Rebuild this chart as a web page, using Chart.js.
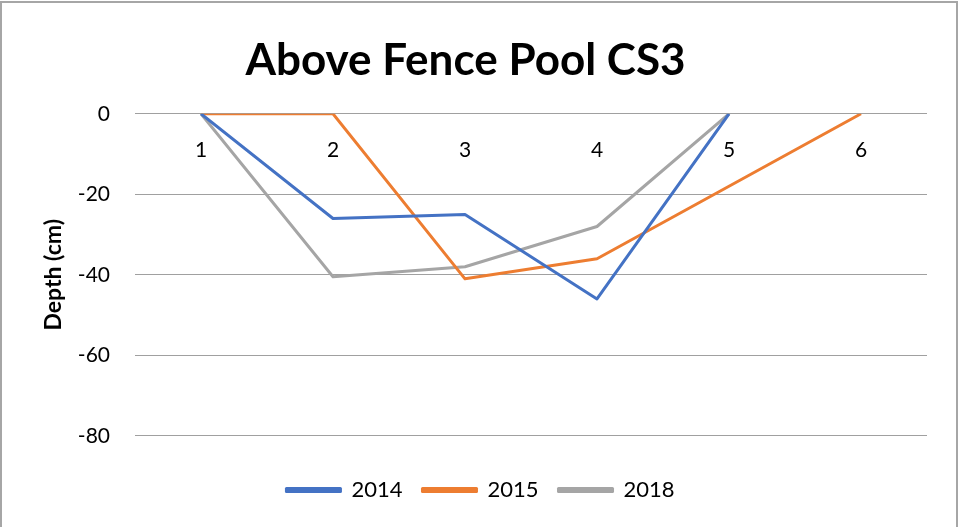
<!DOCTYPE html>
<html>
<head>
<meta charset="utf-8">
<title>Above Fence Pool CS3</title>
<script src="https://cdn.jsdelivr.net/npm/chart.js@4.4.1/dist/chart.umd.min.js"></script>
<style>
  html, body { margin: 0; padding: 0; background: #fff; overflow: hidden; }
  #wrap { position: relative; width: 961px; height: 527px; }
  #frame {
    position: absolute; left: 0; top: 1px; width: 958px; height: 560px;
    box-sizing: border-box; border: 2px solid #a6a6a6; pointer-events: none;
  }
</style>
</head>
<body>
<div id="wrap">
  <canvas id="depthChart" width="961" height="527"></canvas>
  <div id="frame"></div>
</div>
<script>
// Cross-section points and depth readings per survey year
const stations = ["1", "2", "3", "4", "5", "6"];
const depth2014 = [0, -26, -25, -46, 0, null];
const depth2015 = [0, 0, -41, -36, -18, 0];
const depth2018 = [0, -40.5, -38, -28, 0, null];
const depthTicks = [0, -20, -40, -60, -80];

const FONT = "Lato, 'Noto Sans', sans-serif";

function series(label, data, color) {
  return {
    label: label,
    data: data,
    borderColor: color,
    backgroundColor: color,
    borderWidth: 3,
    pointRadius: 0,
    pointHoverRadius: 0,
    borderJoinStyle: "round",
    tension: 0,
    fill: false,
  };
}

// nudge the title a little left of the canvas centre
const titleShift = {
  id: "titleShift",
  afterLayout(chart) {
    if (chart.titleBlock) chart.titleBlock.right -= 30;
  },
};

const ctx = document.getElementById("depthChart").getContext("2d");
new Chart(ctx, {
  type: "line",
  data: {
    labels: stations,
    datasets: [
      series("2014", depth2014, "#4472c4"),
      series("2015", depth2015, "#ed7d31"),
      series("2018", depth2018, "#a5a5a5"),
    ],
  },
  plugins: [titleShift],
  options: {
    responsive: false,
    animation: false,
    layout: { padding: { left: 0, right: 0, top: 0, bottom: 16 } },
    plugins: {
      title: {
        display: true,
        text: "Above Fence Pool CS3",
        color: "#000",
        font: { family: FONT, size: 44, weight: "bold" },
        padding: { top: 34, bottom: 27 },
      },
      legend: {
        position: "bottom",
        // empty legend title just keeps a gap above the legend row
        title: { display: true, text: "", font: { size: 1 }, padding: { top: 0, bottom: 22 } },
        labels: {
          color: "#000",
          font: { family: FONT, size: 22 },
          boxWidth: 54,
          boxHeight: 3,
          padding: 20,
        },
      },
      tooltip: { enabled: false },
    },
    scales: {
      x: {
        type: "category",
        position: { y: 0 },
        offset: true,
        grid: { display: false },
        border: { display: false },
        ticks: {
          color: "#000",
          font: { family: FONT, size: 21 },
          padding: 16,
          maxRotation: 0,
        },
        afterFit: (scale) => { scale.height = 0; },
      },
      y: {
        min: -80,
        max: 0,
        afterBuildTicks: (scale) => {
          scale.ticks = depthTicks.map((v) => ({ value: v }));
        },
        grid: { color: "#a0a0a0", lineWidth: 1, drawTicks: false },
        border: { display: false },
        ticks: {
          color: "#000",
          font: { family: FONT, size: 21 },
          padding: 25,
        },
        title: {
          display: true,
          text: "Depth (cm)",
          color: "#000",
          font: { family: FONT, size: 23, weight: "bold" },
          padding: { top: 40, bottom: 0 },
        },
        afterFit: (scale) => { scale.width = 135; },
      },
      // blank right-hand strip so the plot stops short of the frame
      yRight: {
        position: "right",
        min: -80,
        max: 0,
        grid: { display: false },
        border: { display: false },
        ticks: { display: false },
        afterFit: (scale) => { scale.width = 34; },
      },
    },
  },
});
</script>
</body>
</html>
